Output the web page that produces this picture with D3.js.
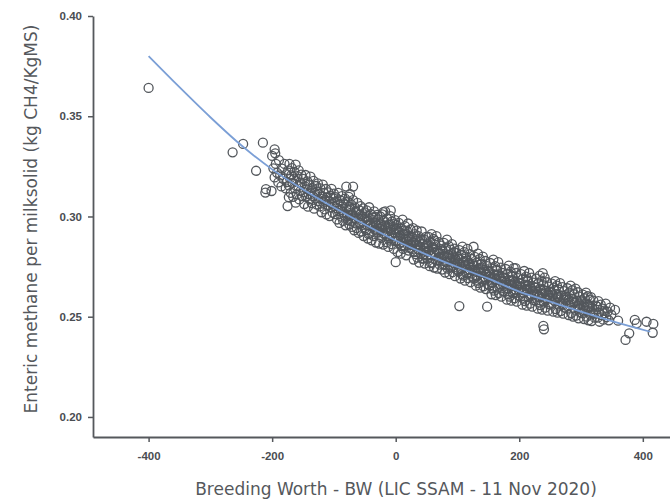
<!DOCTYPE html>
<html>
<head>
<meta charset="utf-8">
<title>BW vs enteric methane</title>
<script src="https://d3js.org/d3.v7.min.js"></script>
<style>
  body { margin: 0; background: #fff; }
  svg { display: block; font-family: "DejaVu Sans", "Open Sans", sans-serif; }
  .tick text { fill: #4a4d52; font-size: 11.5px; font-weight: 700; }
  .axis path, .axis line { stroke: #55585c; }
</style>
</head>
<body>
<div class="graph"></div>
<script>
// x ticks (BW) and y ticks (kg CH4 / kgMS)
const xTicks = [-400, -200, 0, 200, 400];
const yTicks = [0.20, 0.25, 0.30, 0.35, 0.40];

// fitted trend
const fitBW  = [-400, -350, -300, -250, -200, -150, -100, -50, 0, 50, 100, 150, 200, 250, 300, 350, 412];
const fitCH4 = [.3800, .3645, .3495, .3355, .3235, .3135, .3045, .2960, .2880, .2810, .2748, .2690, .2625, .2575, .2525, .2478, .2425];

// sparse animals away from the main band
const strays = [
  [-400,.3641], [-264,.3320], [-247,.3362], [-215,.3368], [-196,.3335], [-200,.3302], [-195,.3315],
  [-226,.3228], [-210,.3136], [-201,.3127], [-211,.3119], [-173,.3096], [-175,.3052], [-162,.3069],
  [-80,.3149], [-69,.3149], [-74,.3112], [-20,.3022], [-8,.3030], [0,.2772], [126,.2849], [103,.2553],
  [148,.2550], [194,.2742], [238,.2717], [239,.2454], [240,.2437],
  [338,.2517], [355,.2534], [360,.2480], [387,.2484], [390,.2467], [406,.2475], [417,.2464],
  [416,.2420], [378,.2417], [372,.2384]
];

// main herd band
const herd = [
  [-198,.3240],[-196,.3195],[-194,.3262],[-192,.3218],[-190,.3170],[-189,.3281],[-187,.3205],[-185,.3150],[-184,.3239],[-182,.3188],[-180,.3262],[-178,.3140],[-177,.3211],[-176,.3172],
  [-174,.3230],[-173,.3155],[-172,.3262],[-171,.3190],[-170,.3118],[-169,.3205],[-168,.3241],[-167,.3168],[-166,.3098],[-165,.3186],[-164,.3222],[-163,.3140],[-162,.3259],[-161,.3176],[-160,.3110],[-159,.3201],[-158,.3152],[-157,.3230],[-156,.3085],[-155,.3170],[-154,.3128],[-153,.3209],[-152,.3160],[-151,.3102],
  [-150,.3188],[-149,.3121],[-148,.3062],[-147,.3150],[-146,.3207],[-145,.3098],[-144,.3136],[-143,.3175],[-142,.3049],[-141,.3112],[-140,.3160],[-139,.3086],[-138,.3199],[-137,.3128],[-136,.3067],[-135,.3143],[-134,.3101],[-133,.3178],[-132,.3039],[-131,.3118],[-130,.3090],[-129,.3152],[-128,.3060],[-127,.3125],[-126,.3165],[-125,.3076],
  [-124,.3112],[-123,.3050],[-122,.3140],[-121,.3088],[-120,.3021],[-119,.3101],[-118,.3159],[-117,.3069],[-116,.3118],[-115,.3035],[-114,.3082],[-113,.3137],[-112,.3010],[-111,.3095],[-110,.3058],[-109,.3120],[-108,.3074],[-107,.3002],[-106,.3103],[-105,.3045],[-104,.3138],[-103,.3066],[-102,.3019],[-101,.3091],[-100,.3052],[-100,.3114],
  [-99,.3070],[-98,.3012],[-97,.3096],[-96,.3041],[-95,.2985],[-94,.3060],[-93,.3118],[-92,.3027],[-91,.2968],[-90,.3081],[-89,.3033],[-88,.2999],[-87,.3102],[-86,.3050],[-85,.2978],[-84,.3066],[-83,.3015],[-82,.3089],[-81,.2956],[-80,.3040],[-79,.3003],[-78,.3075],[-77,.2982],[-76,.3031],[-76,.3098],[-75,.2960],[-75,.3048],[-77,.3010],
  [-74,.3035],[-73,.2978],[-72,.3060],[-71,.2948],[-70,.3010],[-69,.3082],[-68,.2990],[-67,.2931],[-66,.3045],[-65,.2966],[-64,.3021],[-63,.2942],[-62,.3068],[-61,.2995],[-60,.2918],[-59,.3031],[-58,.2970],[-57,.3052],[-56,.2925],[-55,.3003],[-54,.2958],[-53,.3040],[-52,.2902],[-51,.2985],[-50,.3020],[-50,.2940],[-73,.3008],[-66,.2992],[-58,.3010],[-54,.2988],
  [-49,.2998],[-48,.2932],[-47,.3030],[-46,.2958],[-45,.2890],[-44,.2980],[-43,.3046],[-42,.2915],[-41,.2966],[-40,.3012],[-39,.2881],[-38,.2948],[-37,.2995],[-36,.2902],[-35,.3025],[-34,.2935],[-33,.2970],[-32,.2870],[-31,.2956],[-30,.3008],[-29,.2920],[-28,.2984],[-27,.2865],[-26,.2941],[-25,.3000],[-47,.2975],[-42,.2955],[-36,.2962],[-31,.2930],[-27,.2952],[-44,.2912],[-33,.2998],
  [-24,.2962],[-23,.2894],[-22,.3010],[-21,.2930],[-20,.2860],[-19,.2978],[-18,.2911],[-17,.3025],[-16,.2945],[-15,.2872],[-14,.2990],[-13,.2925],[-12,.2848],[-11,.2960],[-10,.2901],[-9,.3002],[-8,.2933],[-7,.2862],[-6,.2975],[-5,.2890],[-4,.2948],[-3,.2838],[-2,.2920],[-1,.2982],[0,.2876],[0,.2935],[-22,.2948],[-18,.2955],[-14,.2902],[-9,.2940],[-6,.2910],[-3,.2962],[-20,.2918],[-11,.2885],
  [1,.2958],[2,.2880],[3,.2822],[4,.2930],[5,.2968],[6,.2865],[7,.2905],[8,.2815],[9,.2940],[10,.2872],[11,.2984],[12,.2838],[13,.2912],[14,.2855],[15,.2952],[16,.2890],[17,.2806],[18,.2928],[19,.2860],[20,.2965],[21,.2830],[22,.2900],[23,.2842],[24,.2935],[25,.2875],[3,.2898],[6,.2920],[9,.2852],[12,.2890],[15,.2915],[18,.2876],[21,.2888],[24,.2858],[2,.2940],[14,.2930],[20,.2902],
  [26,.2900],[27,.2838],[28,.2942],[29,.2785],[30,.2868],[31,.2912],[32,.2812],[33,.2880],[34,.2930],[35,.2795],[36,.2855],[37,.2902],[38,.2770],[39,.2848],[40,.2890],[41,.2815],[42,.2925],[43,.2790],[44,.2862],[45,.2830],[46,.2885],[47,.2765],[48,.2842],[49,.2898],[50,.2805],[28,.2870],[31,.2852],[34,.2860],[37,.2835],[40,.2850],[43,.2882],[46,.2812],[49,.2852],[30,.2822],[39,.2872],[45,.2790],
  [51,.2862],[52,.2790],[53,.2898],[54,.2830],[55,.2752],[56,.2875],[57,.2805],[58,.2912],[59,.2770],[60,.2845],[61,.2888],[62,.2745],[63,.2818],[64,.2860],[65,.2782],[66,.2902],[67,.2740],[68,.2830],[69,.2795],[70,.2872],[71,.2760],[72,.2838],[73,.2800],[74,.2855],[75,.2735],[53,.2825],[56,.2808],[59,.2850],[62,.2822],[65,.2835],[68,.2780],[71,.2815],[74,.2790],[57,.2768],[63,.2880],[70,.2818],
  [76,.2830],[77,.2760],[78,.2868],[79,.2795],[80,.2720],[81,.2842],[82,.2775],[83,.2885],[84,.2740],[85,.2810],[86,.2852],[87,.2712],[88,.2790],[89,.2835],[90,.2750],[91,.2862],[92,.2722],[93,.2805],[94,.2768],[95,.2840],[96,.2702],[97,.2785],[98,.2818],[99,.2735],[100,.2800],[78,.2805],[81,.2772],[84,.2798],[87,.2780],[90,.2812],[93,.2755],[96,.2790],[99,.2770],[80,.2758],[88,.2745],[94,.2822],
  [101,.2790],[102,.2725],[103,.2832],[104,.2760],[105,.2690],[106,.2808],[107,.2742],[108,.2850],[109,.2705],[110,.2775],[111,.2822],[112,.2680],[113,.2758],[114,.2800],[115,.2718],[116,.2838],[117,.2692],[118,.2770],[119,.2735],[120,.2812],[121,.2672],[122,.2750],[123,.2788],[124,.2700],[125,.2762],[103,.2765],[106,.2738],[109,.2770],[112,.2752],[115,.2780],[118,.2722],[121,.2745],[124,.2735],[107,.2712],[113,.2790],[119,.2765],
  [126,.2755],[127,.2690],[128,.2798],[129,.2725],[130,.2655],[131,.2770],[132,.2705],[133,.2815],[134,.2668],[135,.2740],[136,.2788],[137,.2645],[138,.2722],[139,.2765],[140,.2680],[141,.2800],[142,.2652],[143,.2735],[144,.2698],[145,.2778],[146,.2638],[147,.2715],[148,.2752],[149,.2662],[150,.2728],[128,.2730],[131,.2702],[134,.2735],[137,.2718],[140,.2745],[143,.2688],[146,.2712],[149,.2700],[132,.2680],[138,.2760],[145,.2725],
  [151,.2722],[152,.2655],[153,.2768],[154,.2690],[155,.2612],[156,.2740],[157,.2672],[158,.2785],[159,.2630],[160,.2705],[161,.2752],[162,.2608],[163,.2688],[164,.2730],[165,.2645],[166,.2772],[167,.2618],[168,.2700],[169,.2662],[170,.2745],[171,.2600],[172,.2680],[173,.2718],[174,.2628],[175,.2695],[153,.2700],[156,.2668],[159,.2712],[162,.2682],[165,.2708],[168,.2650],[171,.2675],[174,.2660],[157,.2642],[163,.2735],[170,.2690],
  [176,.2690],[177,.2625],[178,.2738],[179,.2660],[180,.2585],[181,.2712],[182,.2642],[183,.2755],[184,.2600],[185,.2678],[186,.2725],[187,.2580],[188,.2660],[189,.2700],[190,.2618],[191,.2742],[192,.2592],[193,.2672],[194,.2635],[195,.2718],[196,.2575],[197,.2655],[198,.2692],[199,.2605],[200,.2668],[178,.2670],[181,.2640],[184,.2682],[187,.2652],[190,.2680],[193,.2622],[196,.2648],[199,.2635],[182,.2612],[188,.2705],[195,.2660],
  [201,.2665],[202,.2600],[203,.2712],[204,.2635],[205,.2560],[206,.2690],[207,.2620],[208,.2728],[209,.2578],[210,.2652],[211,.2700],[212,.2555],[213,.2638],[214,.2678],[215,.2598],[216,.2718],[217,.2565],[218,.2648],[219,.2612],[220,.2695],[221,.2550],[222,.2630],[223,.2670],[224,.2582],[225,.2645],[203,.2648],[206,.2618],[209,.2660],[212,.2630],[215,.2655],[218,.2602],[221,.2628],[224,.2615],[207,.2590],[213,.2682],[219,.2640],
  [226,.2645],[227,.2580],[228,.2690],[229,.2612],[230,.2540],[231,.2668],[232,.2600],[233,.2705],[234,.2558],[235,.2632],[236,.2680],[237,.2535],[238,.2618],[239,.2658],[240,.2575],[241,.2695],[242,.2545],[243,.2628],[244,.2592],[245,.2672],[246,.2530],[247,.2610],[248,.2650],[249,.2562],[250,.2625],[228,.2625],[231,.2598],[234,.2640],[237,.2608],[240,.2632],[243,.2582],[246,.2605],[249,.2595],[233,.2570],
  [251,.2622],[252,.2560],[253,.2665],[254,.2592],[255,.2525],[256,.2645],[257,.2580],[258,.2678],[259,.2538],[260,.2612],[261,.2655],[262,.2520],[263,.2598],[264,.2635],[265,.2555],[266,.2668],[267,.2528],[268,.2605],[269,.2572],[270,.2648],[271,.2515],[272,.2590],[273,.2628],[274,.2545],[275,.2608],[254,.2610],[258,.2575],[262,.2600],[266,.2585],[270,.2562],[274,.2595],[257,.2630],
  [276,.2600],[277,.2540],[278,.2642],[279,.2570],[280,.2508],[281,.2620],[282,.2555],[283,.2655],[284,.2518],[285,.2590],[286,.2632],[287,.2500],[288,.2575],[289,.2612],[290,.2535],[291,.2640],[292,.2505],[293,.2580],[294,.2548],[295,.2622],[296,.2492],[297,.2565],[298,.2600],[299,.2520],[300,.2582],[280,.2585],[285,.2560],[290,.2572],[295,.2555],[298,.2540],
  [301,.2575],[302,.2518],[303,.2610],[304,.2545],[305,.2488],[306,.2592],[307,.2530],[308,.2620],[309,.2500],[310,.2565],[311,.2602],[312,.2482],[313,.2550],[314,.2585],[315,.2510],[316,.2598],[317,.2478],[318,.2540],[319,.2522],[320,.2580],[322,.2495],[324,.2555],[305,.2555],[310,.2532],[315,.2548],[320,.2515],
  [326,.2550],[327,.2495],[328,.2578],[329,.2520],[330,.2475],[332,.2560],[333,.2508],[335,.2540],[336,.2485],[338,.2530],[340,.2565],[341,.2498],[343,.2525],[345,.2482],[347,.2545],[349,.2510]
];

const width = 670;
const height = 500;

const x = d3.scaleLinear()
  .domain([-490, 444])
  .range([93, 670]);

const y = d3.scaleLinear()
  .domain([0.19, 0.40])
  .range([437, 16]);

const svg = d3.select(".graph")
  .append("svg")
  .attr("width", width)
  .attr("height", height);

const xAxis = d3.axisBottom(x)
  .tickValues(xTicks)
  .tickFormat(d3.format("d"))
  .tickSize(5)
  .tickSizeOuter(0)
  .tickPadding(10);

const yAxis = d3.axisLeft(y)
  .tickValues(yTicks)
  .tickFormat(d3.format(".2f"))
  .tickSize(5)
  .tickSizeOuter(0)
  .tickPadding(6);

svg.append("g")
  .attr("class", "axis x-axis")
  .attr("transform", `translate(0, ${y(0.19)})`)
  .call(xAxis);

svg.append("g")
  .attr("class", "axis y-axis")
  .attr("transform", `translate(${x(-490)}, 0)`)
  .call(yAxis);

svg.selectAll(".axis path").attr("stroke-width", 1.8);
svg.selectAll(".axis line").attr("stroke-width", 1.5);
svg.selectAll(".x-axis .tick text").text(d => d < 0 ? "-" + Math.abs(d) : d);

// points
svg.append("g")
  .selectAll("circle")
  .data(herd.concat(strays))
  .enter()
  .append("circle")
  .attr("cx", d => x(d[0]))
  .attr("cy", d => y(d[1]))
  .attr("r", 4.5)
  .attr("fill", "none")
  .attr("stroke", "#53575c")
  .attr("stroke-width", 1.3);

// trend
const line = d3.line()
  .x((d, i) => x(fitBW[i]))
  .y(d => y(d))
  .curve(d3.curveMonotoneX);

svg.append("path")
  .datum(fitCH4)
  .attr("d", line)
  .attr("fill", "none")
  .attr("stroke", "#7b9fd6")
  .attr("stroke-width", 1.8);

// axis titles
svg.append("text")
  .attr("x", 396)
  .attr("y", 495)
  .attr("text-anchor", "middle")
  .attr("fill", "#55585c")
  .style("font-size", "17px")
  .text("Breeding Worth - BW (LIC SSAM - 11 Nov 2020)");

svg.append("text")
  .attr("transform", "translate(37, 219) rotate(-90)")
  .attr("text-anchor", "middle")
  .attr("fill", "#55585c")
  .style("font-size", "17px")
  .text("Enteric methane per milksolid (kg CH4/KgMS)");
</script>
</body>
</html>
